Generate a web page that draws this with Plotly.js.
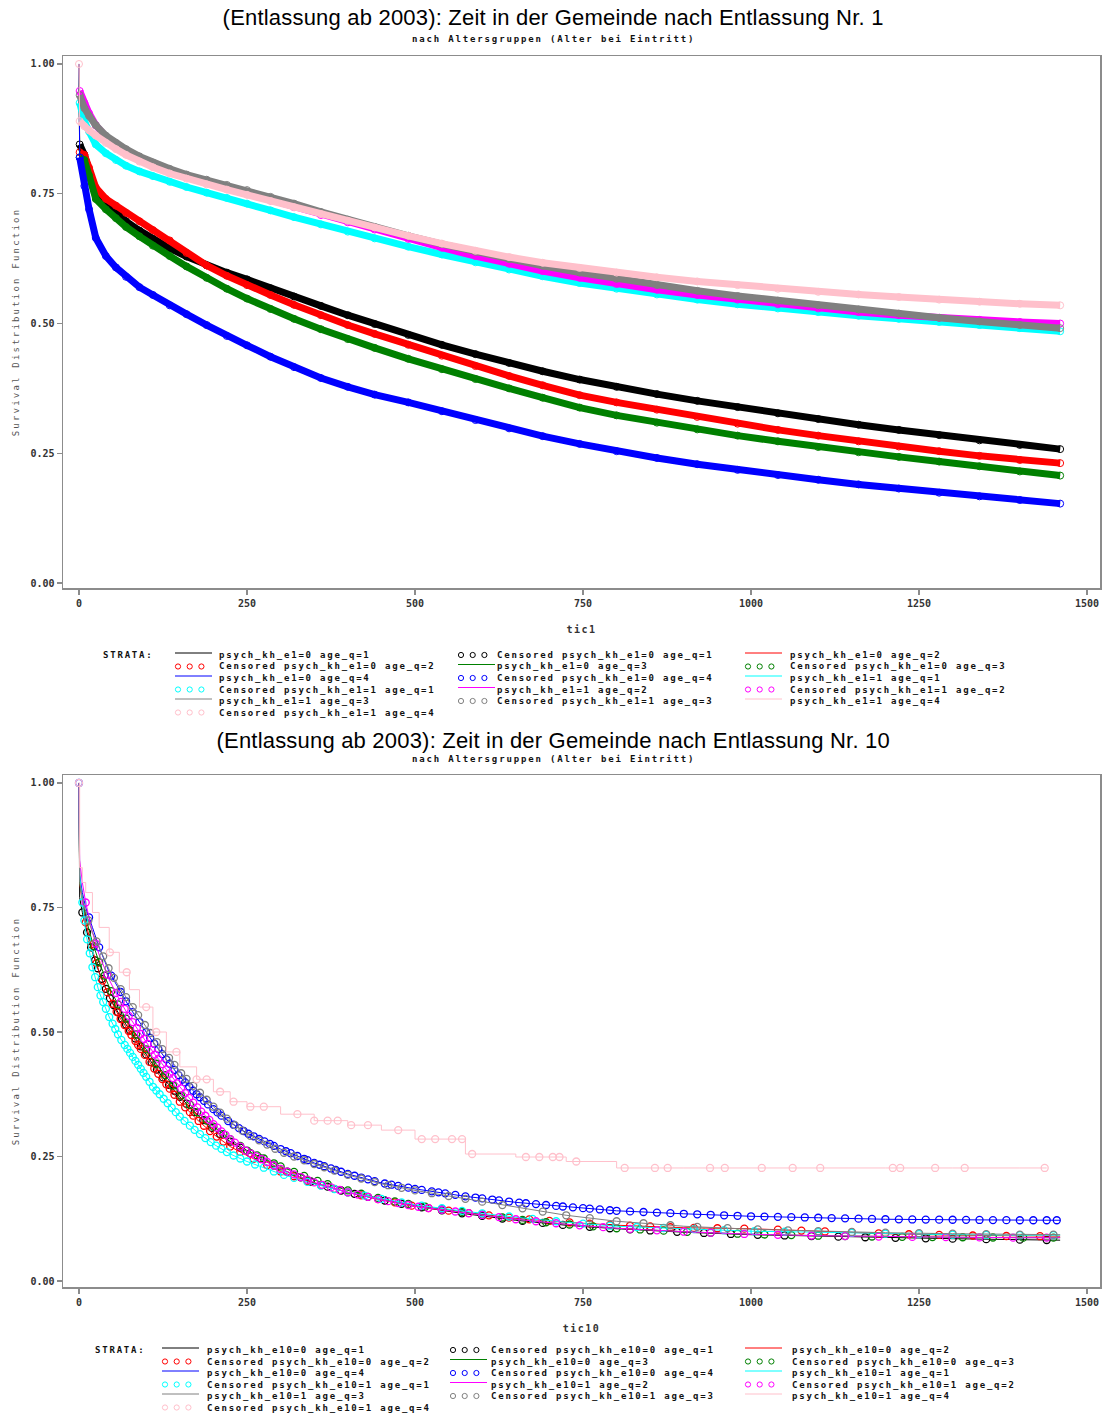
<!DOCTYPE html>
<html><head><meta charset="utf-8">
<script src="https://cdn.plot.ly/plotly-3.0.1.min.js"></script>
<style>html,body{margin:0;padding:0;background:#fff}</style>
</head><body><div id="chart" style="width:1104px;height:1413px"></div>
<script>
// ---------- DATA ----------
const panelTitles = ['(Entlassung ab 2003): Zeit in der Gemeinde nach Entlassung Nr. 1',
                     '(Entlassung ab 2003): Zeit in der Gemeinde nach Entlassung Nr. 10'];
const subTitle = 'nach Altersgruppen (Alter bei Eintritt)';
const xTitles = ['tic1', 'tic10'];
const yTitle = 'Survival Distribution Function';
const strataVar = ['psych_kh_e1', 'psych_kh_e10'];
const strataE = [0, 0, 0, 0, 1, 1, 1, 1];
const strataQ = [1, 2, 3, 4, 1, 2, 3, 4];
const strataColors = ['#000000', '#ff0000', '#008000', '#0000ff', '#00ffff', '#ff00ff', '#808080', '#ffc0cb'];
const xTicks = [0, 250, 500, 750, 1000, 1250, 1500];
const yTicks = [0, 0.25, 0.5, 0.75, 1];

// Panel 1 (Entlassung Nr. 1): survival
const time1 = [0, 1, 8, 15, 25, 40, 55, 70, 90, 110, 135, 160, 190, 220, 250, 285, 320, 360, 400, 440,
               490, 540, 590, 640, 690, 745, 800, 860, 920, 980, 1040, 1100, 1160, 1220, 1280, 1340, 1400, 1460];
const s1_e0_q1 = [1, 0.845, 0.825, 0.795, 0.758, 0.73, 0.712, 0.697, 0.679, 0.663, 0.645, 0.629, 0.612, 0.598, 0.585, 0.568, 0.552, 0.534, 0.516, 0.499,
                  0.478, 0.459, 0.441, 0.424, 0.408, 0.392, 0.378, 0.364, 0.351, 0.339, 0.327, 0.316, 0.305, 0.295, 0.285, 0.275, 0.266, 0.258];
const s1_e0_q2 = [1, 0.83, 0.825, 0.80, 0.762, 0.74, 0.727, 0.713, 0.697, 0.68, 0.66, 0.636, 0.612, 0.592, 0.574, 0.555, 0.536, 0.516, 0.497, 0.48,
                  0.459, 0.438, 0.418, 0.399, 0.381, 0.362, 0.348, 0.334, 0.32, 0.307, 0.295, 0.284, 0.273, 0.263, 0.254, 0.245, 0.237, 0.231];
const s1_e0_q3 = [1, 0.82, 0.815, 0.785, 0.74, 0.72, 0.703, 0.686, 0.668, 0.65, 0.63, 0.61, 0.588, 0.567, 0.548, 0.528, 0.509, 0.489, 0.47, 0.453,
                  0.432, 0.412, 0.393, 0.375, 0.357, 0.338, 0.323, 0.309, 0.296, 0.284, 0.273, 0.262, 0.252, 0.243, 0.234, 0.225, 0.215, 0.207];
const s1_e0_q4 = [1, 0.82, 0.765, 0.72, 0.665, 0.63, 0.608, 0.59, 0.57, 0.555, 0.535, 0.518, 0.497, 0.476, 0.458, 0.436, 0.416, 0.395, 0.378, 0.363,
                  0.348, 0.331, 0.314, 0.298, 0.283, 0.268, 0.254, 0.241, 0.229, 0.218, 0.208, 0.199, 0.19, 0.182, 0.174, 0.167, 0.16, 0.153];
const s1_e1_q1 = [1, 0.925, 0.89, 0.87, 0.845, 0.828, 0.815, 0.804, 0.793, 0.784, 0.773, 0.763, 0.752, 0.742, 0.731, 0.718, 0.705, 0.691, 0.677, 0.664,
                  0.648, 0.633, 0.618, 0.604, 0.591, 0.578, 0.567, 0.556, 0.546, 0.537, 0.529, 0.522, 0.515, 0.509, 0.503, 0.497, 0.491, 0.485];
const s1_e1_q2 = [1, 0.948, 0.925, 0.905, 0.882, 0.86, 0.845, 0.832, 0.818, 0.806, 0.794, 0.783, 0.772, 0.761, 0.75, 0.737, 0.724, 0.709, 0.695, 0.681,
                  0.663, 0.646, 0.63, 0.615, 0.601, 0.588, 0.576, 0.565, 0.555, 0.546, 0.537, 0.529, 0.522, 0.516, 0.511, 0.507, 0.503, 0.50];
const s1_e1_q3 = [1, 0.94, 0.915, 0.90, 0.882, 0.862, 0.848, 0.836, 0.822, 0.81, 0.798, 0.787, 0.777, 0.767, 0.757, 0.744, 0.731, 0.715, 0.70, 0.686,
                  0.669, 0.653, 0.638, 0.624, 0.611, 0.598, 0.586, 0.574, 0.563, 0.553, 0.544, 0.535, 0.527, 0.519, 0.511, 0.504, 0.497, 0.491];
const s1_e1_q4 = [1, 0.89, 0.88, 0.872, 0.862, 0.848, 0.836, 0.825, 0.812, 0.801, 0.789, 0.779, 0.768, 0.758, 0.748, 0.736, 0.724, 0.711, 0.698, 0.685,
                  0.669, 0.654, 0.64, 0.628, 0.617, 0.607, 0.598, 0.589, 0.581, 0.574, 0.567, 0.561, 0.556, 0.551, 0.546, 0.542, 0.538, 0.535];
const censoredAtZero1 = [7];

// Panel 2 (Entlassung Nr. 10): survival
const time10 = [0, 1, 5, 10, 20, 30, 45, 60, 75, 90, 110, 130, 150, 175, 200, 225, 250, 300, 350, 400,
                450, 500, 575, 650, 725, 800, 900, 1000, 1100, 1200, 1300, 1400, 1460];
const lastTime10 = [1460, 1460, 1460, 1460, 1460, 1460, 1460, 1440];
const s10_e0_q1 = [1, 0.77, 0.74, 0.71, 0.66, 0.62, 0.57, 0.535, 0.505, 0.475, 0.435, 0.40, 0.37, 0.335, 0.305, 0.28, 0.26, 0.225, 0.197, 0.178,
                   0.163, 0.15, 0.135, 0.122, 0.112, 0.105, 0.098, 0.093, 0.09, 0.087, 0.085, 0.083, 0.082];
const s10_e0_q2 = [1, 0.80, 0.76, 0.72, 0.665, 0.62, 0.57, 0.53, 0.50, 0.47, 0.43, 0.395, 0.36, 0.325, 0.295, 0.27, 0.252, 0.22, 0.196, 0.178,
                   0.163, 0.15, 0.137, 0.126, 0.118, 0.112, 0.107, 0.105, 0.10, 0.095, 0.092, 0.09, 0.09];
const s10_e0_q3 = [1, 0.80, 0.77, 0.73, 0.68, 0.64, 0.59, 0.55, 0.515, 0.485, 0.445, 0.41, 0.375, 0.34, 0.31, 0.285, 0.262, 0.23, 0.203, 0.182,
                   0.165, 0.152, 0.138, 0.124, 0.114, 0.106, 0.099, 0.094, 0.091, 0.089, 0.088, 0.087, 0.087];
const s10_e0_q4 = [1, 0.815, 0.78, 0.75, 0.71, 0.67, 0.62, 0.585, 0.55, 0.52, 0.48, 0.445, 0.41, 0.375, 0.345, 0.318, 0.297, 0.265, 0.237, 0.215,
                   0.197, 0.185, 0.17, 0.158, 0.149, 0.141, 0.135, 0.13, 0.127, 0.124, 0.123, 0.122, 0.122];
const s10_e1_q1 = [1, 0.815, 0.76, 0.70, 0.63, 0.58, 0.53, 0.49, 0.46, 0.43, 0.39, 0.36, 0.33, 0.30, 0.275, 0.255, 0.24, 0.215, 0.195, 0.178,
                   0.165, 0.153, 0.14, 0.128, 0.118, 0.11, 0.105, 0.10, 0.098, 0.095, 0.093, 0.092, 0.092];
const s10_e1_q2 = [1, 0.845, 0.80, 0.76, 0.70, 0.655, 0.605, 0.565, 0.53, 0.50, 0.46, 0.425, 0.39, 0.35, 0.315, 0.285, 0.26, 0.225, 0.198, 0.178,
                   0.163, 0.15, 0.137, 0.124, 0.114, 0.106, 0.099, 0.094, 0.091, 0.089, 0.088, 0.087, 0.087];
const s10_e1_q3 = [1, 0.80, 0.77, 0.74, 0.70, 0.67, 0.625, 0.59, 0.56, 0.53, 0.49, 0.455, 0.42, 0.385, 0.35, 0.32, 0.295, 0.26, 0.235, 0.213,
                   0.195, 0.182, 0.165, 0.148, 0.132, 0.12, 0.11, 0.104, 0.10, 0.097, 0.095, 0.093, 0.093];
const s10_e1_q4 = [1, 0.83, 0.80, 0.78, 0.74, 0.71, 0.66, 0.62, 0.585, 0.55, 0.50, 0.46, 0.43, 0.405, 0.38, 0.36, 0.35, 0.335, 0.322, 0.313,
                   0.303, 0.285, 0.255, 0.249, 0.24, 0.227, 0.227, 0.227, 0.227, 0.227, 0.227, 0.227, 0.227];
// censoring times, panel 2
const c10_e0_q1 = [5, 12, 18, 24, 28, 34, 40, 46, 52, 58, 64, 70, 76, 84, 92, 100, 108, 116, 125, 134, 142, 150, 160, 172, 185, 198, 210, 225, 240, 255,
                   270, 290, 310, 330, 345, 370, 390, 410, 430, 455, 480, 510, 540, 570, 600, 630, 660, 690, 720, 760, 790, 820, 850, 890, 930, 970,
                   1010, 1050, 1090, 1130, 1170, 1215, 1260, 1300, 1350, 1400, 1440];
const c10_e0_q2 = [10, 18, 26, 35, 42, 50, 56, 62, 68, 74, 78, 84, 88, 92, 98, 105, 112, 118, 124, 130, 135, 142, 150, 158, 165, 170, 178, 186, 195, 205,
                   215, 225, 240, 260, 280, 300, 320, 340, 360, 380, 400, 420, 445, 470, 495, 520, 550, 580, 610, 640, 670, 700, 730, 760, 790, 820,
                   850, 880, 915, 950, 990, 1040, 1075, 1110, 1150, 1190, 1235, 1280, 1330, 1380, 1430];
const c10_e0_q3 = [22, 30, 38, 48, 58, 70, 85, 100, 115, 128, 140, 152, 165, 176, 190, 200, 215, 225, 240, 250, 265, 275, 290, 300, 320, 335, 355, 370,
                   400, 420, 445, 470, 490, 515, 540, 570, 600, 630, 660, 695, 730, 765, 800, 835, 870, 905, 940, 980, 1020, 1060, 1100, 1140, 1180,
                   1225, 1270, 1315, 1360, 1405, 1450];
const c10_e0_q4 = [15, 30, 48, 62, 70, 80, 90, 100, 106, 112, 118, 124, 130, 135, 142, 148, 154, 158, 164, 170, 175, 180, 186, 192, 200, 206, 212, 222,
                   230, 238, 245, 252, 260, 268, 276, 284, 290, 300, 308, 315, 325, 335, 340, 350, 358, 365, 375, 382, 390, 400, 410, 420, 430, 440,
                   455, 465, 475, 490, 500, 510, 525, 535, 545, 560, 575, 590, 600, 615, 625, 640, 655, 665, 680, 695, 710, 720, 735, 750, 760, 775,
                   790, 800, 820, 840, 860, 880, 900, 920, 940, 960, 980, 1000, 1020, 1040, 1060, 1080, 1100, 1120, 1140, 1160, 1180, 1200, 1220,
                   1240, 1260, 1280, 1300, 1320, 1340, 1360, 1380, 1400, 1420, 1440, 1455];
const c10_e1_q1 = [5, 8, 12, 16, 20, 24, 28, 32, 36, 40, 45, 50, 54, 58, 63, 68, 72, 76, 80, 84, 88, 92, 96, 100, 105, 110, 115, 120, 126, 132, 138, 144,
                   150, 157, 165, 172, 180, 188, 196, 204, 212, 220, 230, 240, 250, 262, 275, 290, 305, 320, 340, 360, 380, 400, 425, 450, 480, 510,
                   540, 570, 600, 640, 675, 710, 750, 790, 830, 870, 915, 960, 1005, 1050, 1100, 1150, 1200, 1250, 1300, 1350, 1400, 1450];
const c10_e1_q2 = [10, 25, 42, 55, 62, 68, 74, 80, 86, 92, 97, 102, 108, 113, 118, 124, 130, 135, 140, 146, 152, 158, 164, 170, 176, 182, 188, 194, 200,
                   206, 212, 218, 225, 232, 240, 248, 256, 264, 272, 280, 290, 300, 310, 320, 330, 340, 350, 362, 375, 388, 400, 415, 430, 445, 460,
                   475, 490, 505, 520, 540, 560, 580, 600, 625, 650, 680, 710, 745, 780, 820, 860, 900, 940, 990, 1040, 1090, 1140, 1190, 1240, 1290,
                   1340, 1390, 1440];
const c10_e1_q3 = [14, 26, 36, 44, 52, 62, 70, 80, 88, 98, 106, 116, 124, 134, 142, 152, 160, 170, 180, 190, 200, 210, 220, 232, 243, 255, 268, 280, 292,
                   305, 320, 335, 350, 365, 380, 400, 420, 440, 460, 480, 500, 525, 550, 575, 600, 630, 660, 690, 725, 760, 800, 840, 880, 920, 965,
                   1010, 1055, 1100, 1150, 1200, 1250, 1300, 1350, 1400, 1450];
const c10_e1_q4 = [46, 71, 100, 115, 145, 175, 190, 210, 230, 255, 275, 325, 350, 370, 385, 405, 430, 475, 510, 530, 555, 570, 585, 665, 685, 705, 715,
                   740, 812, 857, 876, 939, 961, 1016, 1062, 1103, 1211, 1222, 1274, 1318, 1437];
const censoredAtZero10 = [3, 7];

// ---------- BUILD ----------
const surv1 = [s1_e0_q1, s1_e0_q2, s1_e0_q3, s1_e0_q4, s1_e1_q1, s1_e1_q2, s1_e1_q3, s1_e1_q4];
const surv10 = [s10_e0_q1, s10_e0_q2, s10_e0_q3, s10_e0_q4, s10_e1_q1, s10_e1_q2, s10_e1_q3, s10_e1_q4];
const cens10 = [c10_e0_q1, c10_e0_q2, c10_e0_q3, c10_e0_q4, c10_e1_q1, c10_e1_q2, c10_e1_q3, c10_e1_q4];

const W = 1104, H = 1413;
const PX = x => x / W, PY = y => 1 - y / H;
const MONO = 'DejaVu Sans Mono';

function valueAt(times, vals, t) {
  // position on the drawn curve at time t
  if (t <= times[0]) return vals[0];
  for (let i = 1; i < times.length; i++) {
    if (t <= times[i]) {
      const f = (t - times[i - 1]) / (times[i] - times[i - 1]);
      return vals[i - 1] + f * (vals[i] - vals[i - 1]);
    }
  }
  return vals[vals.length - 1];
}
function stepAt(times, vals, t) {
  let v = vals[0];
  for (let i = 0; i < times.length; i++) { if (times[i] <= t) v = vals[i]; else break; }
  return v;
}

const traces = [];
// Panel 1
for (let i = 0; i < 8; i++) {
  const c = strataColors[i];
  traces.push({x: time1, y: surv1[i], xaxis: 'x', yaxis: 'y', mode: 'lines', type: 'scatter',
    line: {shape: 'linear', width: 1, color: c}, showlegend: false, hoverinfo: 'skip'});
  let cx = time1.slice(1), cy = surv1[i].slice(1);
  if (censoredAtZero1.includes(i)) { cx = [0, null].concat(cx); cy = [1, null].concat(cy); }
  traces.push({x: cx, y: cy, xaxis: 'x', yaxis: 'y', mode: 'lines+markers', type: 'scatter', connectgaps: false,
    line: {shape: 'linear', width: 7, color: c},
    marker: {symbol: 'circle-open', size: 7, color: c, line: {width: 1, color: c}},
    showlegend: false, hoverinfo: 'skip'});
}
// Panel 2
for (let i = 0; i < 8; i++) {
  const c = strataColors[i];
  const tx = time10.slice(); tx[tx.length - 1] = lastTime10[i];
  const stepped = (i === 7);
  traces.push({x: tx, y: surv10[i], xaxis: 'x2', yaxis: 'y2', mode: 'lines', type: 'scatter',
    line: {shape: stepped ? 'hv' : 'linear', width: 1, color: c}, showlegend: false, hoverinfo: 'skip'});
  let cx = cens10[i].slice();
  let cy = cx.map(t => stepped ? stepAt(tx, surv10[i], t) : valueAt(tx, surv10[i], t));
  if (censoredAtZero10.includes(i)) { cx = [0].concat(cx); cy = [1].concat(cy); }
  traces.push({x: cx, y: cy, xaxis: 'x2', yaxis: 'y2', mode: 'markers', type: 'scatter',
    marker: {symbol: 'circle-open', size: 7, color: c, line: {width: 1.3, color: c}},
    showlegend: false, hoverinfo: 'skip'});
}

// Axes
const axisLineColor = '#8c8c8c';
const tickFont = {family: MONO, size: 10, weight: 'bold', color: '#333'};
function xAxis(anchor, title) {
  return {anchor: anchor, domain: [63 / W, 1100 / W], range: [-23.8, 1519.3], tickmode: 'array', tickvals: xTicks,
    ticks: 'outside', ticklen: 5, tickcolor: axisLineColor, tickwidth: 1.2, showline: true, linecolor: axisLineColor, linewidth: 1.5,
    mirror: true, showgrid: false, zeroline: false, tickfont: tickFont,
    title: {text: title, font: {family: MONO, size: 10, weight: 'bold', color: '#333'}, standoff: 18}};
}
function yAxis(anchor, domain, range) {
  return {anchor: anchor, domain: domain, range: range, tickmode: 'array', tickvals: yTicks, tickformat: '.2f',
    ticks: 'outside', ticklen: 5, tickcolor: axisLineColor, tickwidth: 1.2, showline: true, linecolor: axisLineColor, linewidth: 1.5,
    mirror: true, showgrid: false, zeroline: false, tickfont: tickFont,
    title: {text: yTitle, font: {family: MONO, size: 9, color: '#555'}, standoff: 9}};
}

const annotations = [];
const spacing = [];
const shapes = [];
function addText(x, y, text, font, xanchor, ls) {
  const xa = xanchor || 'left';
  annotations.push({xref: 'paper', yref: 'paper', x: PX(x), y: PY(y), text: text, showarrow: false,
    xanchor: xa, align: xa, yanchor: 'middle', font: font});
  spacing.push(ls || 0);
}
// Titles
const titleFont = {family: 'Liberation Sans, Arial, sans-serif', size: 22, color: '#000'};
const subFont = {family: MONO, size: 9, weight: 'bold', color: '#111'};
addText(553, 18, panelTitles[0], titleFont, 'center', 0.2);
addText(553, 39, subTitle, subFont, 'center', 1.85);
addText(553, 740, panelTitles[1], titleFont, 'center', 0.2);
addText(553, 759, subTitle, subFont, 'center', 1.85);

// Legends (STRATA blocks)
const legFont = {family: MONO, size: 9, weight: 'bold', color: '#111'};
function addLegend(p, y0, rowStep, strataX, symX, textX) {
  addText(strataX, y0, 'STRATA:', legFont, 'left', 1.8);
  const entries = [];
  for (let i = 0; i < 8; i++) {
    const lab = strataVar[p] + '=' + strataE[i] + ' age_q=' + strataQ[i];
    entries.push({kind: 'line', color: strataColors[i], text: lab});
    entries.push({kind: 'circle', color: strataColors[i], text: 'Censored ' + lab});
  }
  entries.forEach((en, k) => {
    const row = Math.floor(k / 3), col = k % 3;
    const y = y0 + row * rowStep;
    const sx = symX[col];
    if (en.kind === 'line') {
      shapes.push({type: 'line', xref: 'paper', yref: 'paper', x0: PX(sx), x1: PX(sx + 37), y0: PY(y - 2), y1: PY(y - 2),
        line: {color: en.color, width: 1}});
    } else {
      for (let j = 0; j < 3; j++) {
        const cxp = sx + 3 + j * 11.7;
        shapes.push({type: 'circle', xref: 'paper', yref: 'paper', x0: PX(cxp - 2.6), x1: PX(cxp + 2.6),
          y0: PY(y + 2.6), y1: PY(y - 2.6), line: {color: en.color, width: 1}});
      }
    }
    addText(textX[col], y, en.text, legFont, 'left', 1.8);
  });
}
addLegend(0, 655, 11.5, 101, [175, 458, 745], [217, 495, 788]);
addLegend(1, 1350, 11.5, 93, [162, 450, 745], [205, 489, 790]);

const layout = {
  width: W, height: H, margin: {l: 0, r: 0, t: 0, b: 0}, paper_bgcolor: '#fff', plot_bgcolor: '#fff',
  showlegend: false,
  xaxis: xAxis('y', xTitles[0]),
  yaxis: yAxis('x', [1 - 588 / H, 1 - 56 / H], [-0.0096, 1.0154]),
  xaxis2: xAxis('y2', xTitles[1]),
  yaxis2: yAxis('x2', [1 - 1287 / H, 1 - 775 / H], [-0.012, 1.016]),
  annotations: annotations, shapes: shapes
};
Plotly.newPlot('chart', traces, layout, {staticPlot: true, displayModeBar: false}).then(() => {
  document.querySelectorAll('.g-ytitle text, .g-y2title text').forEach(t => t.style.letterSpacing = '2.2px');
  document.querySelectorAll('.g-xtitle text, .g-x2title text').forEach(t => t.style.letterSpacing = '1.5px');
  document.querySelectorAll('g.annotation').forEach(g => {
    const idx = +g.getAttribute('data-index');
    const ls = spacing[idx];
    if (!ls) return;
    g.querySelectorAll('text').forEach(t => {
      if (annotations[idx].xanchor === 'left') {
        const bb = t.getBBox();
        t.setAttribute('text-anchor', 'start');
        t.setAttribute('x', bb.x);
        t.querySelectorAll('tspan[x]').forEach(s => s.setAttribute('x', bb.x));
      }
      t.style.letterSpacing = ls + 'px';
    });
  });
});
</script></body></html>
